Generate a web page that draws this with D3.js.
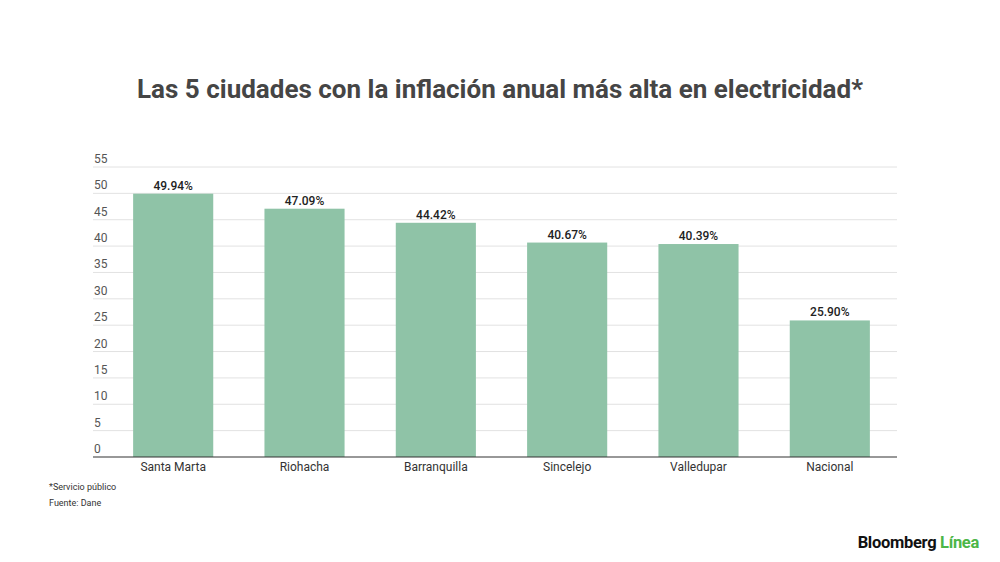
<!DOCTYPE html>
<html lang="es">
<head>
<meta charset="UTF-8" />
<title>Inflación anual en electricidad</title>
<script src="https://cdn.jsdelivr.net/npm/d3@7"></script>
<style>
  body { margin: 0; background: #fff; }
  text { font-family: Roboto, "Noto Sans", sans-serif; }
</style>
</head>
<body>
<script>
var ciudades = ["Santa Marta", "Riohacha", "Barranquilla", "Sincelejo", "Valledupar", "Nacional"];
var inflacion = [49.94, 47.09, 44.42, 40.67, 40.39, 25.90];
var ticks = [0, 5, 10, 15, 20, 25, 30, 35, 40, 45, 50, 55];

var w = 1000, h = 562;
var svg = d3.select("body").append("svg")
    .attr("width", w)
    .attr("height", h);

// titulo
svg.append("text")
    .attr("x", 500).attr("y", 98)
    .attr("text-anchor", "middle")
    .attr("font-size", 26).attr("font-weight", 700)
    .attr("fill", "#454545")
    .text("Las 5 ciudades con la inflación anual más alta en electricidad*");

var x = d3.scaleBand()
    .domain(ciudades)
    .range([120, 883])
    .paddingInner(0.39)
    .paddingOuter(0.1);

var y = d3.scaleLinear()
    .domain([0, 55])
    .range([457, 167]);

// lineas de la grilla
svg.selectAll(".grid")
    .data(ticks.filter(function(t) { return t > 0; }))
    .enter().append("line")
    .attr("x1", 93).attr("x2", 897)
    .attr("y1", function(d) { return y(d); })
    .attr("y2", function(d) { return y(d); })
    .attr("stroke", "#e2e2e2").attr("stroke-width", 1);

svg.selectAll(".ylab")
    .data(ticks)
    .enter().append("text")
    .attr("x", 94)
    .attr("y", function(d) { return y(d) - 4; })
    .attr("font-size", 12).attr("fill", "#555")
    .text(function(d) { return d; });

// barras
svg.selectAll(".bar")
    .data(inflacion)
    .enter().append("rect")
    .attr("x", function(d, i) { return x(ciudades[i]); })
    .attr("y", function(d) { return y(d); })
    .attr("width", x.bandwidth())
    .attr("height", function(d) { return y(0) - y(d); })
    .attr("fill", "#8fc3a7");

svg.selectAll(".val")
    .data(inflacion)
    .enter().append("text")
    .attr("x", function(d, i) { return x(ciudades[i]) + x.bandwidth() / 2; })
    .attr("y", function(d) { return y(d) - 4; })
    .attr("text-anchor", "middle")
    .attr("font-size", 12).attr("font-weight", 500)
    .attr("fill", "#222")
    .text(function(d) { return d.toFixed(2) + "%"; });

// eje x
svg.append("line")
    .attr("x1", 93).attr("x2", 897)
    .attr("y1", y(0)).attr("y2", y(0))
    .attr("stroke", "#333").attr("stroke-width", 1.2);

svg.selectAll(".xlab")
    .data(ciudades)
    .enter().append("text")
    .attr("x", function(d) { return x(d) + x.bandwidth() / 2; })
    .attr("y", 471)
    .attr("text-anchor", "middle")
    .attr("font-size", 12).attr("fill", "#333")
    .text(function(d) { return d; });

// notas
svg.append("text")
    .attr("x", 49).attr("y", 490)
    .attr("font-size", 9).attr("fill", "#333")
    .text("*Servicio público");
svg.append("text")
    .attr("x", 49).attr("y", 506)
    .attr("font-size", 9).attr("fill", "#333")
    .text("Fuente: Dane");

// logo
var logo = svg.append("text")
    .attr("x", 979).attr("y", 548)
    .attr("text-anchor", "end")
    .attr("font-size", 16.5).attr("font-weight", 700)
    .attr("letter-spacing", -0.3);
logo.append("tspan").attr("fill", "#111").text("Bloomberg ");
logo.append("tspan").attr("fill", "#4cb648").text("Línea");
</script>
</body>
</html>
